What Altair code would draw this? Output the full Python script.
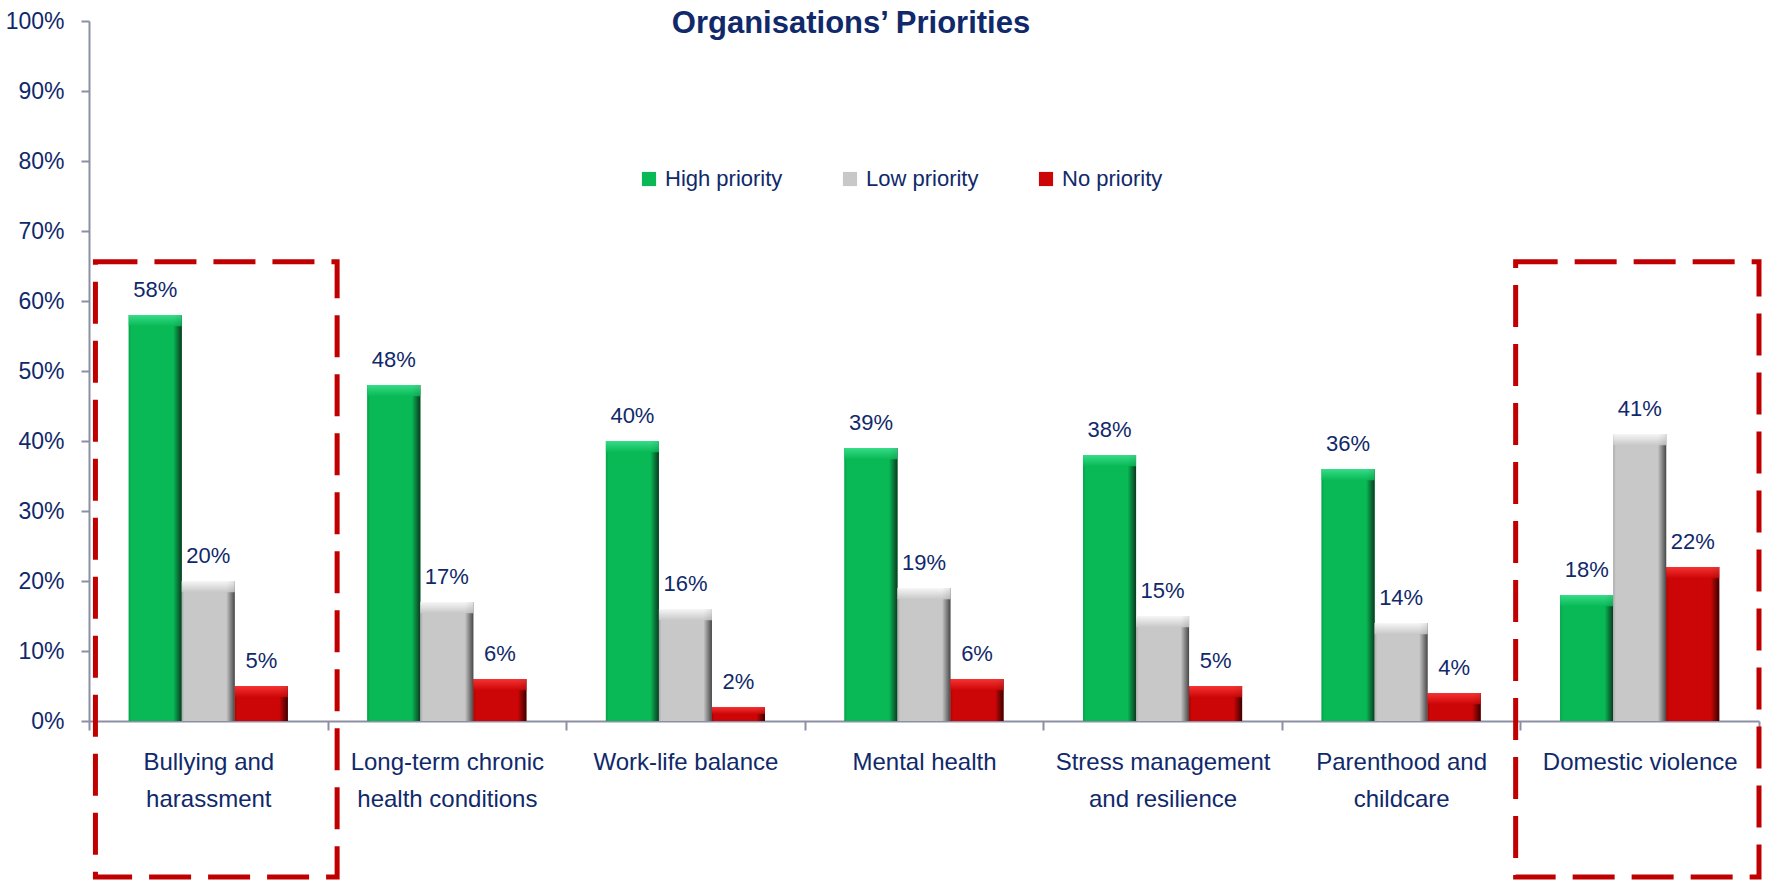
import altair as alt
import pandas as pd

# ---- data ----
categories = [
    "Bullying and harassment",
    "Long-term chronic health conditions",
    "Work-life balance",
    "Mental health",
    "Stress management and resilience",
    "Parenthood and childcare",
    "Domestic violence",
]
label_lines = [
    ["Bullying and", "harassment"],
    ["Long-term chronic", "health conditions"],
    ["Work-life balance"],
    ["Mental health"],
    ["Stress management", "and resilience"],
    ["Parenthood and", "childcare"],
    ["Domestic violence"],
]
series = ["High priority", "Low priority", "No priority"]
high_priority = [0.58, 0.48, 0.40, 0.39, 0.38, 0.36, 0.18]
low_priority = [0.20, 0.17, 0.16, 0.19, 0.15, 0.14, 0.41]
no_priority = [0.05, 0.06, 0.02, 0.06, 0.05, 0.04, 0.22]
y_ticks = [0, 0.1, 0.2, 0.3, 0.4, 0.5, 0.6, 0.7, 0.8, 0.9, 1.0]

# highlight boxes (in category units on x, value units on y)
box_x0 = [0.027, 5.98]
box_x1 = [1.04, 7.0]
box_y0 = [-0.223, -0.223]
box_y1 = [0.656, 0.656]

# ---- styling ----
FONT = "Liberation Sans, Arial, sans-serif"
NAVY = "#10296A"
AXIS_GRAY = "#8C8FA4"
base_colors = ["#08B955", "#C8C8C8", "#CC0606"]
edge_left = ["#07A04A", "#ABABAB", "#A80404"]
edge_right = ["#0A3A1F", "#474747", "#3A0000"]
top_light = ["#3FE391", "#FFFFFF", "#FF3A3A"]

rows = []
for i, c in enumerate(categories):
    for s, vals in zip(series, [high_priority, low_priority, no_priority]):
        rows.append({"category": c, "series": s, "value": vals[i]})
df = pd.DataFrame(rows)

box_df = pd.DataFrame({"x0": box_x0, "x1": box_x1, "y0": box_y0, "y1": box_y1})

# label expression for multi-line category labels
expr = "''"
for c, lines in reversed(list(zip(categories, label_lines))):
    arr = "[" + ",".join("'" + l + "'" for l in lines) + "]"
    expr = f"datum.value == '{c}' ? {arr} : ({expr})"

x_scale = alt.Scale(domain=categories, paddingInner=0, paddingOuter=0)
x_enc = alt.X(
    "category:N",
    sort=categories,
    scale=x_scale,
    axis=alt.Axis(
        title=None,
        labelAngle=0,
        tickBand="extent",
        labelExpr=expr,
        labelFont=FONT,
        labelFontSize=24,
        labelColor=NAVY,
        labelLineHeight=37,
        labelPadding=20,
        labelLimit=400,
        tickSize=9,
        tickColor=AXIS_GRAY,
        tickWidth=2,
        domainColor=AXIS_GRAY,
        domainWidth=2,
    ),
)
x_enc_plain = alt.X("category:N", sort=categories, scale=x_scale)
xoff = alt.XOffset("series:N", sort=series,
                   scale=alt.Scale(domain=series, paddingInner=0, paddingOuter=0.75))
y_axis = alt.Axis(
    title=None,
    values=y_ticks,
    format=".0%",
    grid=False,
    labelFont=FONT,
    labelFontSize=23,
    labelColor=NAVY,
    labelPadding=17,
    tickSize=8,
    tickColor=AXIS_GRAY,
    tickWidth=2,
    domainColor=AXIS_GRAY,
    domainWidth=2,
)
y_scale = alt.Scale(domain=[0, 1], nice=False)
y_enc = alt.Y("value:Q", scale=y_scale, axis=y_axis)

base = alt.Chart(df)

bars = base.mark_bar().encode(
    x=x_enc,
    xOffset=xoff,
    y=y_enc,
    color=alt.Color(
        "series:N",
        sort=series,
        scale=alt.Scale(domain=series, range=base_colors),
        legend=alt.Legend(
            title=None,
            orient="none",
            legendX=549,
            legendY=147,
            direction="horizontal",
            symbolType="square",
            symbolSize=200,
            symbolStrokeWidth=0,
            labelFont=FONT,
            labelFontSize=22,
            labelColor=NAVY,
            labelOffset=5,
            columnPadding=56,
            padding=0,
        ),
    ),
)

grad_layers = []
for s, bc, el, er, tl in zip(series, base_colors, edge_left, edge_right, top_light):
    g = alt.Gradient(
        gradient="linear", x1=0, x2=1, y1=0, y2=0,
        stops=[
            alt.GradientStop(offset=0, color=el),
            alt.GradientStop(offset=0.05, color=bc),
            alt.GradientStop(offset=0.84, color=bc),
            alt.GradientStop(offset=1, color=er),
        ],
    )
    grad_layers.append(
        base.transform_filter(alt.datum.series == s)
        .mark_bar(fill=g)
        .encode(x=x_enc_plain, xOffset=xoff, y=alt.Y("value:Q", scale=y_scale, axis=y_axis))
    )
    gt = alt.Gradient(
        gradient="linear", x1=0, x2=0, y1=0, y2=1,
        stops=[
            alt.GradientStop(offset=0, color=tl),
            alt.GradientStop(offset=1, color=bc),
        ],
    )
    grad_layers.append(
        base.transform_filter(alt.datum.series == s)
        .transform_calculate(top2="max(datum.value - 0.016, datum.value * 0.5)")
        .mark_bar(fill=gt, fillOpacity=0.85)
        .encode(
            x=x_enc_plain,
            xOffset=xoff,
            y=alt.Y("value:Q", scale=y_scale, axis=y_axis),
            y2="top2:Q",
        )
    )

labels = base.mark_text(
    baseline="alphabetic", dy=-18, font=FONT, fontSize=22, color=NAVY
).encode(
    x=x_enc_plain,
    xOffset=xoff,
    y=alt.Y("value:Q", scale=y_scale, axis=y_axis),
    text=alt.Text("value:Q", format=".0%"),
)

inner = alt.layer(bars, *grad_layers, labels)

boxes = alt.Chart(box_df).mark_rect(
    fillOpacity=0, stroke="#C00000", strokeWidth=5, strokeDash=[42, 17]
).encode(
    x=alt.X("x0:Q", scale=alt.Scale(domain=[0, 7], nice=False, zero=False), axis=None),
    x2="x1:Q",
    y=alt.Y("y0:Q", scale=y_scale, axis=y_axis),
    y2="y1:Q",
)

chart = (
    alt.layer(inner, boxes)
    .resolve_scale(x="independent")
    .properties(
        width=1670,
        height=700,
        title=alt.TitleParams(
            "Organisations’ Priorities",
            font=FONT,
            fontSize=31,
            fontWeight="bold",
            color=NAVY,
            anchor="middle",
            frame="group",
            dx=-73,
            offset=0,
            dy=54,
            baseline="alphabetic",
        ),
        autosize=alt.AutoSizeParams(type="none"),
        padding={"left": 89, "top": 21, "right": 5, "bottom": 162},
    )
    .configure_view(stroke=None)
)

chart.save("out.html", embed_options={"renderer": "svg", "actions": False})
